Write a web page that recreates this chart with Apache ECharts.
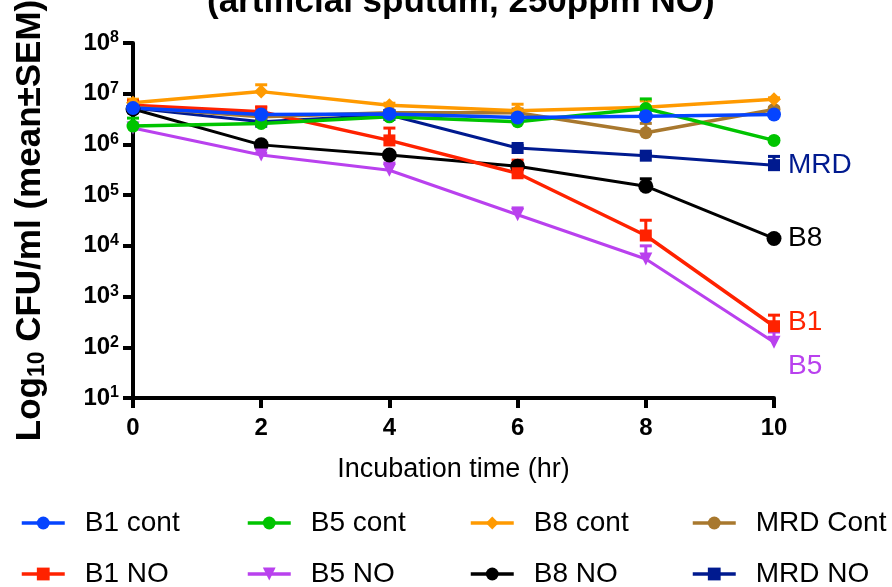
<!DOCTYPE html>
<html>
<head>
<meta charset="utf-8">
<script src="https://cdn.jsdelivr.net/npm/echarts@6/dist/echarts.min.js"></script>
<style>
  html, body { margin: 0; padding: 0; background: #fff; }
  #chart { width: 892px; height: 587px; }
</style>
</head>
<body>
<div id="chart"></div>
<script>
// incubation time (hr)
const hours = [0, 2, 4, 6, 8, 10];

// mean CFU/ml
const b1Cont = [5.2e6, 3.9e6, 4.0e6, 3.4e6, 3.6e6, 3.9e6];
const b5Cont = [2.3e6, 2.6e6, 3.5e6, 2.8e6, 5.1e6, 1.2e6];
const b8Cont = [6.6e6, 1.1e7, 5.9e6, 4.6e6, 5.4e6, 7.8e6];
const mrdCont = [5.4e6, 3.5e6, 4.2e6, 4.2e6, 1.7e6, 4.9e6];
const b1No = [5.9e6, 4.4e6, 1.2e6, 2.7e5, 1.6e4, 2.6e2];
const b5No = [2.1e6, 6.2e5, 3.1e5, 4.1e4, 5.5e3, 1.26e2];
const b8No = [5.0e6, 9.8e5, 6.2e5, 3.7e5, 1.5e5, 1.4e4];
const mrdNo = [5.2e6, 2.8e6, 3.8e6, 8.5e5, 6.0e5, 3.9e5];

// mean + SEM (upper end of error bar)
const b1ContHi = [5.8e6, 4.3e6, 4.4e6, 3.8e6, 4.0e6, 4.3e6];
const b5ContHi = [3.3e6, 2.9e6, 3.9e6, 3.2e6, 7.9e6, 1.3e6];
const b8ContHi = [7.8e6, 1.5e7, 6.5e6, 6.2e6, 7.2e6, 8.3e6];
const mrdContHi = [6.0e6, 3.9e6, 4.6e6, 5.0e6, 2.6e6, 5.4e6];
const b1NoHi = [6.6e6, 5.5e6, 2.1e6, 4.9e5, 3.2e4, 4.3e2];
const b5NoHi = [2.3e6, 6.8e5, 4.3e5, 5.6e4, 1.0e4, 2.0e2];
const b8NoHi = [5.6e6, 1.1e6, 6.8e5, 4.2e5, 2.1e5, 1.5e4];
const mrdNoHi = [5.8e6, 3.1e6, 4.2e6, 9.5e5, 6.6e5, 5.8e5];

const FONT = "'Liberation Sans', Arial, Helvetica, sans-serif";

function lineSeries(name, mean, color, symbol, size, width, endText, labelOffset) {
  const s = {
    name: name,
    type: "line",
    data: hours.map((h, i) => [h, mean[i]]),
    symbol: symbol,
    symbolSize: size,
    symbolRotate: symbol === "triangle" ? 180 : 0,
    lineStyle: { color: color, width: width },
    itemStyle: { color: color },
    z: 3
  };
  if (endText) {
    s.endLabel = {
      show: true,
      formatter: endText,
      color: color,
      fontSize: 28,
      fontFamily: FONT,
      distance: 14,
      offset: labelOffset || [0, 0]
    };
  }
  return s;
}

function errSeries(name, mean, hi, color) {
  return {
    name: name + " err",
    type: "custom",
    data: hours.map((h, i) => [h, mean[i], hi[i]]),
    encode: { x: 0, y: [1, 2] },
    z: 2,
    silent: true,
    renderItem: function(params, api) {
      const p1 = api.coord([api.value(0), api.value(1)]);
      const p2 = api.coord([api.value(0), api.value(2)]);
      const st = { stroke: color, lineWidth: 3 };
      return {
        type: "group",
        children: [
          { type: "line", shape: { x1: p1[0], y1: p1[1], x2: p2[0], y2: p2[1] }, style: st },
          { type: "line", shape: { x1: p2[0] - 6, y1: p2[1], x2: p2[0] + 6, y2: p2[1] }, style: st }
        ]
      };
    }
  };
}

const myChart = echarts.init(document.getElementById("chart"));

const legendBase = {
  orient: "vertical",
  top: 509,
  height: 120,
  padding: 0,
  itemWidth: 43,
  itemHeight: 16,
  itemGap: 23,
  lineStyle: { width: 3.5 },
  textStyle: { fontSize: 28, color: "#000", fontFamily: FONT, padding: [0, 0, 0, 15] }
};

let option = {
  animation: false,
  textStyle: { fontFamily: FONT },
  title: {
    text: "(artificial sputum, 250ppm NO)",
    left: 202,
    top: -20,
    textStyle: { fontSize: 35, fontWeight: "bold", color: "#000", fontFamily: FONT }
  },
  legend: [
    Object.assign({}, legendBase, { left: 20, data: ["B1 cont", "B1 NO"] }),
    Object.assign({}, legendBase, { left: 246, data: ["B5 cont", "B5 NO"] }),
    Object.assign({}, legendBase, { left: 469, data: ["B8 cont", "B8 NO"] }),
    Object.assign({}, legendBase, { left: 691, data: ["MRD Cont", "MRD NO"] })
  ],
  grid: { left: 133, right: 118, top: 43, bottom: 189, outerBoundsMode: "none", containLabel: false },
  xAxis: {
    type: "value",
    min: 0,
    max: 10,
    interval: 2,
    name: "Incubation time (hr)",
    nameLocation: "middle",
    nameGap: 58,
    nameTextStyle: { fontSize: 27, color: "#000", fontFamily: FONT },
    axisLine: { lineStyle: { color: "#000", width: 4 } },
    axisTick: { length: 10, lineStyle: { color: "#000", width: 4 } },
    axisLabel: { fontSize: 24, fontWeight: "bold", color: "#000", margin: 18, fontFamily: FONT },
    splitLine: { show: false }
  },
  yAxis: {
    type: "log",
    logBase: 10,
    min: 10,
    max: 1e8,
    interval: 1,
    name: "Log{sub|10} CFU/ml (mean±SEM)",
    nameLocation: "middle",
    nameRotate: 90,
    nameGap: 84,
    nameTextStyle: {
      fontSize: 35,
      fontWeight: "bold",
      color: "#000",
      fontFamily: FONT,
      lineHeight: 38,
      rich: {
        sub: { fontSize: 23, fontWeight: "bold", color: "#000", verticalAlign: "bottom", lineHeight: 23, padding: [13, 0, 0, 0], fontFamily: FONT }
      }
    },
    axisLine: { show: true, lineStyle: { color: "#000", width: 4 } },
    axisTick: { show: true, length: 10, lineStyle: { color: "#000", width: 4 } },
    axisLabel: {
      formatter: function(v) {
        return "10{sup|" + Math.round(Math.log10(v)) + "}";
      },
      fontSize: 24,
      fontWeight: "bold",
      color: "#000",
      margin: 14,
      lineHeight: 26,
      fontFamily: FONT,
      rich: {
        sup: { fontSize: 16, fontWeight: "bold", color: "#000", verticalAlign: "top", lineHeight: 14, fontFamily: FONT }
      }
    },
    splitLine: { show: false },
    minorTick: { show: false }
  },
  series: [
    errSeries("MRD NO", mrdNo, mrdNoHi, "#001a8f"),
    errSeries("B8 NO", b8No, b8NoHi, "#000000"),
    errSeries("B5 NO", b5No, b5NoHi, "#b941ee"),
    errSeries("B1 NO", b1No, b1NoHi, "#ff2200"),
    errSeries("MRD Cont", mrdCont, mrdContHi, "#a8782e"),
    errSeries("B8 cont", b8Cont, b8ContHi, "#ff9a00"),
    errSeries("B5 cont", b5Cont, b5ContHi, "#00c400"),
    errSeries("B1 cont", b1Cont, b1ContHi, "#0544ff"),
    lineSeries("MRD NO", mrdNo, "#001a8f", "rect", 12, 3, "MRD"),
    lineSeries("B8 NO", b8No, "#000000", "circle", 15, 3, "B8"),
    lineSeries("B5 NO", b5No, "#b941ee", "triangle", 13, 3, "B5", [0, 24]),
    lineSeries("B1 NO", b1No, "#ff2200", "rect", 12, 3.5, "B1", [0, -4]),
    lineSeries("MRD Cont", mrdCont, "#a8782e", "circle", 13, 3.5),
    lineSeries("B8 cont", b8Cont, "#ff9a00", "diamond", 14, 3.5),
    lineSeries("B5 cont", b5Cont, "#00c400", "circle", 13, 3.5),
    lineSeries("B1 cont", b1Cont, "#0544ff", "circle", 14, 3.5)
  ]
};
myChart.setOption(option, true);
</script>
</body>
</html>
